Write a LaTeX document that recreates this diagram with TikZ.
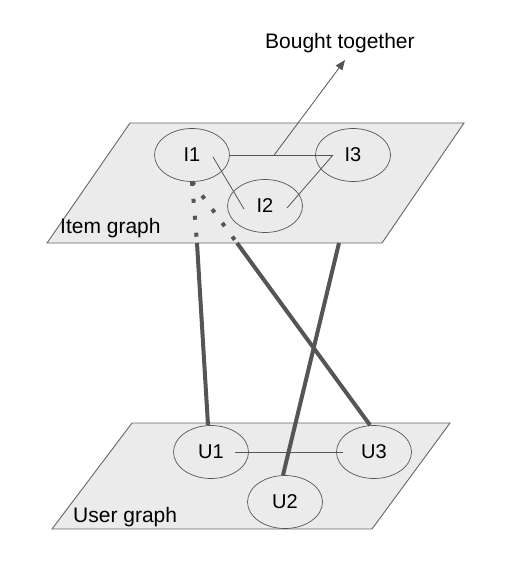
\documentclass[tikz,border=0pt]{standalone}
\usepackage{fontspec}
\setmainfont{Liberation Sans}
\usetikzlibrary{arrows.meta,shapes.geometric}
\definecolor{planegray}{HTML}{EBEBEB}
\definecolor{edgegray}{HTML}{666666}
\definecolor{linkgray}{HTML}{555555}

\begin{document}
\begin{tikzpicture}[
  x=1pt,y=-1pt,
  >={Triangle[length=10pt,width=8pt]},
  plane/.style={fill=planegray,draw=edgegray,line width=0.9pt},
  vert/.style={ellipse,draw=linkgray,line width=0.7pt,minimum width=75pt,minimum height=53pt,inner sep=0pt,font=\fontsize{20}{24}\selectfont},
  lbl/.style={anchor=base west,inner sep=0pt,font=\fontsize{21}{25}\selectfont},
  thin/.style={draw=linkgray,line width=0.8pt},
  link/.style={draw=linkgray,line width=4pt},
  hidden/.style={draw=linkgray,line width=4pt,dash pattern=on 4pt off 13pt},
]
\useasboundingbox (0,0) rectangle (505,570);

% ============ item graph ============
\draw[plane] (130,123) -- (464,123) -- (382,243) -- (47,243) -- cycle;
\node[lbl] (itemlbl) at (60,233) {Item graph};
\node[vert] (I1) at (192,155) {I1};
\node[vert] (I3) at (353,155) {I3};
\node[vert] (I2) at (265,206) {I2};
\draw[thin] (I1.east) -- coordinate[pos=0.43] (bt) ([xshift=-20pt]I3.center);
\draw[thin] ([shift={(21pt,-2pt)}]I1.center) -- ([shift={(-21pt,-3pt)}]I2.center);
\draw[thin] ([shift={(22pt,-2pt)}]I2.center) -- ([xshift=-20pt]I3.center);
\node[lbl] (bought) at (265,48) {Bought together};
\draw[->,thin] (bt) -- (345,60);

% ============ user graph ============
\draw[plane] (132,423) -- (450,423) -- (372,529) -- (52,529) -- cycle;
\node[lbl] (userlbl) at (73,522) {User graph};
\node[vert] (U1) at (211,452) {U1};
\node[vert] (U3) at (374,452) {U3};
\node[vert] (U2) at (285,502) {U2};
\draw[thin] ([xshift=24pt]U1.center) -- ([xshift=-31pt]U3.center);

% ============ links between the graphs ============
\coordinate (e1) at (197,243);
\coordinate (e2) at (237,243);
\coordinate (e3) at (339,243);
\draw[hidden] (I1.south) -- (e1);
\draw[hidden] (I1.south) -- (e2);
\draw[link] ([xshift=-3pt]U1.north) -- (e1);
\draw[link] ([xshift=-4pt]U3.north) -- (e2);
\draw[link] ([xshift=-2pt]U2.north) -- (e3);

\end{tikzpicture}
\end{document}
